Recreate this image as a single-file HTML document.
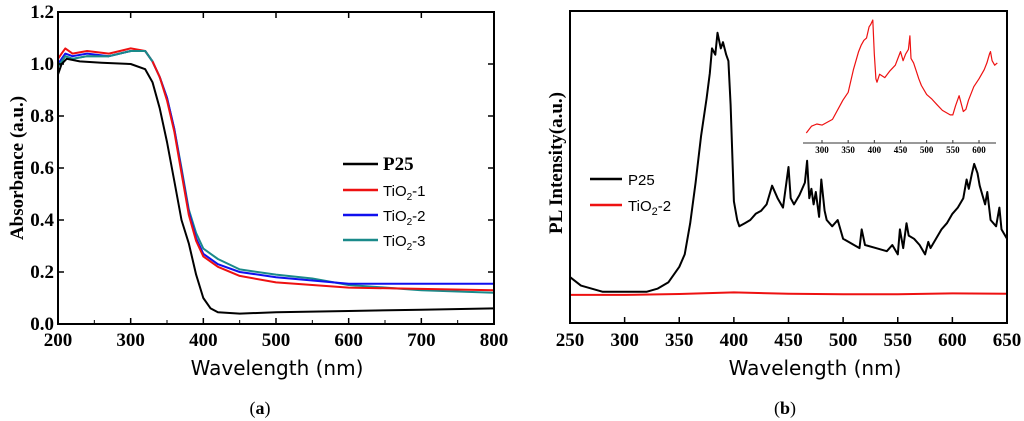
<!DOCTYPE html>
<html><head><meta charset="utf-8"><style>
html,body{margin:0;padding:0;background:#fff;}
svg{display:block;}
.tk{font-family:"Liberation Serif",serif;font-weight:bold;font-size:19px;}
.ti{font-family:"DejaVu Sans","Liberation Sans",sans-serif;font-size:20px;}
.lg{font-family:"Liberation Sans",sans-serif;font-size:15px;}
.it{font-family:"Liberation Serif",serif;font-weight:bold;font-size:9px;}
</style></head><body>
<svg id="fig" width="1024" height="421" viewBox="0 0 1024 421" xmlns="http://www.w3.org/2000/svg"></svg>
<script>
// Panel (a) data
const aTicksX=[200,300,400,500,600,700,800];
const aTicksY=[0.0,0.2,0.4,0.6,0.8,1.0,1.2];
const aTickLabelsY=["0.0","0.2","0.4","0.6","0.8","1.0","1.2"];
const p25X=[200,205,212,230,260,300,320,330,340,350,360,370,380,390,400,410,420,450,500,600,700,800];
const p25Y=[0.96,1.0,1.02,1.01,1.005,1.0,0.98,0.93,0.83,0.70,0.55,0.40,0.31,0.19,0.10,0.06,0.045,0.04,0.045,0.05,0.055,0.06];
const t1X=[200,205,210,220,240,270,300,320,330,340,350,360,370,380,390,400,420,450,500,600,700,800];
const t1Y=[1.02,1.04,1.06,1.04,1.05,1.04,1.06,1.05,1.01,0.95,0.86,0.74,0.58,0.42,0.32,0.26,0.22,0.185,0.16,0.14,0.135,0.13];
const t2X=[200,205,210,220,240,270,300,320,330,340,350,360,370,380,390,400,420,450,500,600,700,800];
const t2Y=[1.0,1.02,1.04,1.03,1.04,1.03,1.05,1.05,1.01,0.95,0.87,0.75,0.59,0.43,0.33,0.27,0.23,0.20,0.18,0.155,0.155,0.155];
const t3X=[200,205,210,220,240,270,300,320,330,340,350,360,370,380,390,400,420,450,500,550,600,700,800];
const t3Y=[0.99,1.01,1.03,1.02,1.03,1.03,1.05,1.05,1.01,0.95,0.87,0.75,0.60,0.44,0.35,0.29,0.25,0.21,0.19,0.175,0.15,0.13,0.12];
// Panel (b) data
const bTicksX=[250,300,350,400,450,500,550,600,650];
const plX=[250,260,280,300,320,330,340,350,355,360,365,370,375,378,380,383,385,388,390,393,395,397,400,403,405,410,415,420,425,430,435,440,445,450,452,455,460,465,467,469,471,473,475,478,480,483,485,490,495,500,505,510,515,517,520,530,540,545,550,552,555,558,560,565,570,575,578,580,585,590,595,600,605,610,613,615,618,620,623,625,630,632,635,640,643,645,650];
const plY=[14.7,12,10,10,10,11,13,18,22,32,45,60,72,80,88,86,93,88,90,86,84,70,39,33,31,32,33,35,36,38,44,40,37,50,40,38,41,45,52,40,43,38,42,34,46,36,33,31,33,27,26,25,24,30,25,24,23,25,22,30,24,32,28,27,25,22,26,24,27,30,32,35,37,40,46,43,48,51,48,44,38,42,33,31,37,30,27];
const tbX=[250,300,350,400,450,500,550,600,650];
const tbY=[9,9,9.3,9.8,9.4,9.2,9.2,9.5,9.4];
const inX=[270,280,290,300,320,340,350,360,370,375,380,385,390,393,397,400,403,405,410,420,430,440,445,450,455,460,465,468,470,475,480,485,490,500,510,520,530,545,550,555,562,570,575,580,590,600,610,615,620,622,625,630,635];
const inY=[0,6,8,7,12,29,36,56,72,78,82,84,94,96,100,70,48,45,52,49,55,60,66,72,64,70,74,86,66,62,55,48,42,34,30,25,20,16,16,24,33,19,21,29,41,48,56,62,70,72,64,60,62];
const inTicks=[300,350,400,450,500,550,600];

const svg=document.getElementById('fig');
const NS='http://www.w3.org/2000/svg';
function mk(tag,attrs,parent,text){const e=document.createElementNS(NS,tag);for(const k in attrs)e.setAttribute(k,attrs[k]);if(text!==undefined)e.textContent=text;(parent||svg).appendChild(e);return e;}

// Panel a
const ax=v=>58+(v-200)/600*436;
const ay=v=>324-v/1.2*312;
const ga=mk('g',{});


function line(g,xs,ys,fx,fy,color,w,name){const d=xs.map((x,i)=>(i?'L':'M')+fx(x).toFixed(1)+' '+fy(ys[i]).toFixed(1)).join(' ');const p=mk('path',{d:d,fill:'none',stroke:color,'stroke-width':w,'stroke-linejoin':'round'},g);return p;}
line(ga,t3X,t3Y,ax,ay,'#1a8a8a',2,'series-tio2-3');
line(ga,t2X,t2Y,ax,ay,'#1010ee',2,'series-tio2-2');
line(ga,t1X,t1Y,ax,ay,'#ee1111',2,'series-tio2-1');
line(ga,t3X.slice(0,9),t3Y.slice(0,9),ax,ay,'#1a8a8a',2,'series-tio2-3-top');
line(ga,p25X,p25Y,ax,ay,'#000',2,'series-p25');
const fa=mk('rect',{x:58,y:12,width:436,height:312,fill:'none',stroke:'#000','stroke-width':2},ga);

aTicksX.forEach(v=>{mk('line',{x1:ax(v),x2:ax(v),y1:324,y2:318,stroke:'#000','stroke-width':1.5},ga);mk('line',{x1:ax(v),x2:ax(v),y1:12,y2:18,stroke:'#000','stroke-width':1.5},ga);
 const t=mk('text',{x:ax(v),y:346,'text-anchor':'middle',class:'tk'},ga,String(v));});
for(let v=250;v<800;v+=100){mk('line',{x1:ax(v),x2:ax(v),y1:324,y2:320,stroke:'#000'},ga);}
aTicksY.forEach((v,i)=>{mk('line',{x1:58,x2:64,y1:ay(v),y2:ay(v),stroke:'#000','stroke-width':1.5},ga);mk('line',{x1:494,x2:488,y1:ay(v),y2:ay(v),stroke:'#000','stroke-width':1.5},ga);
 const t=mk('text',{x:54,y:ay(v)+6,'text-anchor':'end',class:'tk'},ga,aTickLabelsY[i]);});
let t=mk('text',{x:277,y:375,'text-anchor':'middle',class:'ti'},ga,'Wavelength (nm)');
t=mk('text',{x:0,y:0,transform:'translate(23,168) rotate(-90)','text-anchor':'middle',class:'tk','font-size':'26'},ga,'Absorbance (a.u.)');
t=mk('text',{x:260,y:414,'text-anchor':'middle','font-family':'Liberation Serif, serif','font-size':'18'},ga);t.innerHTML='(<tspan font-weight="bold">a</tspan>)';
const legA=[['P25','#000',164],['TiO','#ee1111',190,'-1'],['TiO','#1010ee',215,'-2'],['TiO','#1a8a8a',240,'-3']];
legA.forEach((L,i)=>{mk('line',{x1:343,x2:378,y1:L[2],y2:L[2],stroke:L[1],'stroke-width':2.5},ga);
 const tx=mk('text',{x:383,y:L[2]+6,class:i?'lg':'tk','font-size':i?16:18},ga);
 if(i){tx.innerHTML='TiO<tspan font-size="10" dy="4">2</tspan><tspan dy="-4">'+L[3]+'</tspan>';}else tx.textContent='P25';
 });

// Panel b
const bx=v=>570+(v-250)/400*437;
const by=v=>323-v/100*312;
const gb=mk('g',{});


line(gb,tbX,tbY,bx,by,'#ee1111',2,'series-tio2-2-pl');
line(gb,plX,plY,bx,by,'#000',2,'series-p25-pl');
const fb=mk('rect',{x:570,y:11,width:437,height:312,fill:'none',stroke:'#000','stroke-width':2},gb);

bTicksX.forEach(v=>{mk('line',{x1:bx(v),x2:bx(v),y1:323,y2:317,stroke:'#000','stroke-width':1.5},gb);
 const t=mk('text',{x:bx(v),y:346,'text-anchor':'middle',class:'tk'},gb,String(v));});
t=mk('text',{x:815,y:375,'text-anchor':'middle',class:'ti'},gb,'Wavelength (nm)');
t=mk('text',{x:0,y:0,transform:'translate(562,163) rotate(-90)','text-anchor':'middle',class:'tk','font-size':'19'},gb,'PL Intensity(a.u.)');
t=mk('text',{x:785,y:414,'text-anchor':'middle','font-family':'Liberation Serif, serif','font-size':'18'},gb);t.innerHTML='(<tspan font-weight="bold">b</tspan>)';
mk('line',{x1:590,x2:622,y1:179,y2:179,stroke:'#000','stroke-width':2.5},gb);
mk('line',{x1:590,x2:622,y1:205,y2:205,stroke:'#ee1111','stroke-width':2.5},gb);
t=mk('text',{x:628,y:185,class:'lg','font-size':'17'},gb,'P25');
t=mk('text',{x:628,y:211,class:'lg','font-size':'17'},gb);t.innerHTML='TiO<tspan font-size="11" dy="4">2</tspan><tspan dy="-4">-2</tspan>';
// inset
const ix=v=>822+(v-300)/300*157;
const iy=v=>133-v/100*113;
const gi=mk('g',{});


line(gi,inX,inY,ix,iy,'#ee1111',1.2,'inset-series-tio2-2');
mk('line',{x1:803,x2:996,y1:143,y2:143,stroke:'#333','stroke-width':1},gi);
inTicks.forEach(v=>{mk('line',{x1:ix(v),x2:ix(v),y1:143,y2:140,stroke:'#333'},gi);
 const t=mk('text',{x:ix(v),y:153,'text-anchor':'middle',class:'it'},gi,String(v));});
</script>
</body></html>
